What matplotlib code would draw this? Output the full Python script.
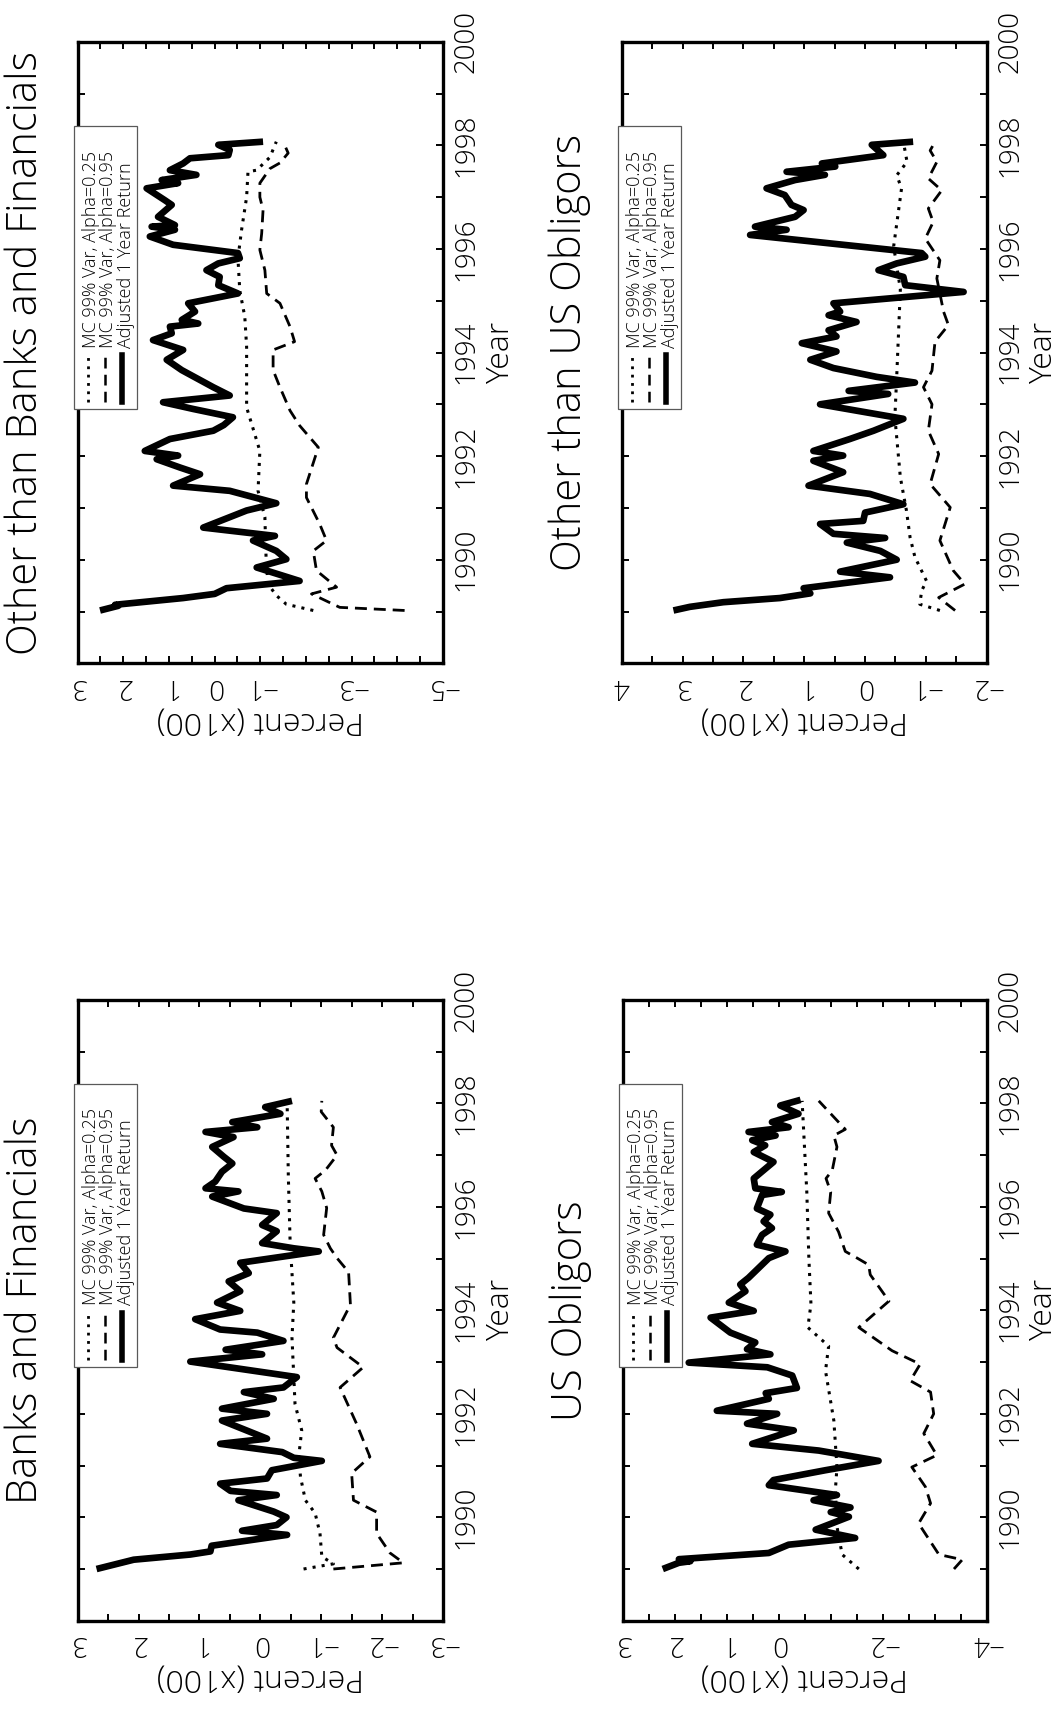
import matplotlib.pyplot as plt
from matplotlib.patches import Rectangle
from matplotlib.ticker import MultipleLocator

plt.rcParams['font.family'] = ['Open Sans', 'DejaVu Sans']
plt.rcParams['font.weight'] = 'light'
plt.rcParams['axes.labelweight'] = 'light'

# ---- Banks and Financials ----
bf_ret_yr = [1989.00, 1989.18, 1989.28, 1989.34, 1989.45, 1989.66, 1989.74, 1989.85, 1990.00, 1990.11,
             1990.33, 1990.43, 1990.51, 1990.65, 1990.75, 1990.91, 1991.09, 1991.15, 1991.26, 1991.42,
             1991.52, 1991.87, 1992.00, 1992.10, 1992.29, 1992.42, 1992.51, 1992.71, 1993.01, 1993.15,
             1993.24, 1993.41, 1993.57, 1993.63, 1993.83, 1993.99, 1994.15, 1994.37, 1994.56, 1994.72,
             1994.92, 1995.14, 1995.20, 1995.30, 1995.53, 1995.65, 1995.88, 1995.97, 1996.20, 1996.30,
             1996.36, 1996.49, 1996.68, 1996.84, 1996.97, 1997.16, 1997.35, 1997.45, 1997.54, 1997.64,
             1997.80, 1997.93, 1998.05]
bf_ret = [2.69, 2.08, 1.15, 0.82, 0.80, -0.44, 0.30, -0.27, -0.43, -0.22,
          0.36, -0.27, 0.49, 0.66, -0.11, -0.19, -1.01, -0.55, -0.36, 0.66,
          -0.11, 0.63, -0.11, 0.63, -0.22, 0.27, -0.38, -0.60, 1.15, -0.03,
          0.57, -0.38, 0.05, 0.66, 1.07, 0.33, 0.71, 0.33, 0.52, 0.19,
          0.33, -0.96, -0.55, -0.03, -0.27, -0.03, -0.27, 0.27, 0.79, 0.36,
          0.90, 0.74, 0.63, 0.46, 0.60, 0.79, 0.44, 0.90, 0.05, 0.46,
          -0.33, -0.08, -0.52]
bf_v25_yr = [1989.00, 1989.10, 1989.24, 1989.69, 1990.08, 1990.33, 1990.78, 1991.17, 1991.68, 1992.19,
             1992.71, 1993.47, 1994.15, 1995.30, 1996.60, 1998.05]
bf_v25 = [-0.71, -1.20, -1.01, -0.98, -0.90, -0.74, -0.66, -0.63, -0.68, -0.57,
          -0.55, -0.52, -0.55, -0.49, -0.46, -0.44]
bf_v95_yr = [1989.00, 1989.12, 1989.31, 1989.69, 1990.10, 1990.33, 1990.85, 1991.17, 1991.81, 1992.51,
             1992.90, 1993.28, 1993.47, 1994.11, 1994.74, 1995.01, 1995.20, 1995.46, 1995.98, 1996.30,
             1996.55, 1996.71, 1997.00, 1997.19, 1997.54, 1997.84, 1998.05]
bf_v95 = [-1.20, -2.35, -2.13, -1.91, -1.91, -1.53, -1.50, -1.80, -1.58, -1.31,
          -1.69, -1.26, -1.20, -1.48, -1.45, -1.26, -1.15, -1.04, -1.09, -1.01,
          -0.90, -1.07, -1.26, -1.17, -1.20, -1.00, -1.01]

# ---- US Obligors ----
us_ret_yr = [1989.00, 1989.12, 1989.15, 1989.19, 1989.31, 1989.47, 1989.60, 1989.76, 1990.01, 1990.10,
             1990.19, 1990.33, 1990.43, 1990.62, 1990.72, 1990.91, 1991.09, 1991.29, 1991.42, 1991.68,
             1991.81, 1992.00, 1992.06, 1992.29, 1992.40, 1992.50, 1992.74, 1992.90, 1992.99, 1993.15,
             1993.25, 1993.38, 1993.57, 1993.86, 1993.99, 1994.15, 1994.37, 1994.50, 1994.63, 1995.01,
             1995.14, 1995.27, 1995.46, 1995.59, 1995.72, 1995.85, 1995.97, 1996.23, 1996.29, 1996.36,
             1996.55, 1996.71, 1996.87, 1997.06, 1997.19, 1997.29, 1997.38, 1997.45, 1997.54, 1997.64,
             1997.80, 1997.96, 1998.07]
us_ret = [2.23, 1.92, 1.70, 1.92, 0.19, -0.19, -1.47, -0.71, -1.35, -1.00,
          -1.38, -0.67, -1.12, 0.19, 0.10, -0.90, -1.92, -0.77, 0.51, -0.29,
          0.61, 0.03, 1.19, 0.19, 0.25, -0.35, -0.26, 0.22, 1.73, 0.16,
          0.61, 0.45, 0.93, 1.31, 0.48, 0.96, 0.64, 0.74, 0.58, 0.19,
          -0.13, 0.42, 0.32, 0.13, 0.29, 0.16, 0.42, 0.32, -0.06, 0.45,
          0.48, 0.29, 0.10, 0.48, 0.26, 0.51, 0.06, 0.58, -0.19, 0.13,
          -0.38, -0.03, -0.42]
us_v25_yr = [1989.00, 1989.28, 1989.82, 1990.53, 1990.97, 1991.87, 1992.83, 1993.31, 1993.67, 1994.12,
             1995.00, 1996.29, 1998.05]
us_v25 = [-1.54, -1.22, -1.12, -1.09, -1.12, -1.06, -0.90, -0.96, -0.56, -0.62,
          -0.58, -0.54, -0.45]
us_v95_yr = [1989.00, 1989.18, 1989.28, 1989.88, 1990.27, 1990.59, 1990.97, 1991.20, 1991.62, 1992.00,
             1992.42, 1992.64, 1992.96, 1993.22, 1993.67, 1994.18, 1994.69, 1994.88, 1995.01, 1995.14,
             1995.52, 1995.88, 1996.29, 1996.55, 1996.71, 1997.16, 1997.38, 1997.50, 1997.64, 1998.05]
us_v95 = [-3.37, -3.53, -3.08, -2.69, -2.92, -2.82, -2.56, -3.04, -2.79, -2.98,
          -2.92, -2.53, -2.72, -2.18, -1.54, -2.12, -1.76, -1.73, -1.51, -1.28,
          -1.15, -0.96, -1.00, -0.91, -1.03, -1.12, -1.06, -1.28, -1.15, -0.77]

# ---- Other than Banks and Financials ----
ob_ret_yr = [1989.02, 1989.11, 1989.13, 1989.26, 1989.34, 1989.45, 1989.59, 1989.85, 1990.01, 1990.17,
             1990.37, 1990.46, 1990.62, 1990.95, 1991.09, 1991.33, 1991.43, 1991.65, 1991.78, 1991.94,
             1992.01, 1992.10, 1992.33, 1992.49, 1992.60, 1992.75, 1992.91, 1993.04, 1993.17, 1993.33,
             1993.66, 1993.86, 1994.05, 1994.24, 1994.37, 1994.50, 1994.56, 1994.63, 1994.79, 1994.95,
             1995.14, 1995.30, 1995.46, 1995.59, 1995.72, 1995.82, 1995.92, 1996.08, 1996.24, 1996.37,
             1996.43, 1996.46, 1996.62, 1996.85, 1996.94, 1997.17, 1997.27, 1997.33, 1997.43, 1997.52,
             1997.65, 1997.75, 1997.81, 1997.91, 1998.01, 1998.07]
ob_ret = [2.51, 2.11, 2.18, 0.69, 0.00, -0.26, -1.86, -0.92, -1.57, -1.35,
          -0.84, -1.32, 0.25, -0.70, -1.35, -0.33, 0.91, 0.32, 0.76, 1.27,
          0.80, 1.53, 0.98, 0.03, -0.20, -0.40, 0.47, 1.13, -0.33, 0.03,
          0.72, 1.05, 0.69, 1.35, 0.94, 0.98, 0.36, 0.72, 0.43, 0.58,
          -0.51, -0.08, -0.11, 0.18, -0.08, -0.55, -0.51, 0.91, 1.42, 0.87,
          1.38, 0.87, 1.24, 0.94, 1.09, 1.49, 0.80, 1.16, 0.40, 0.98,
          0.69, 0.54, -0.30, -0.33, -0.08, -1.06]
ob_v25_yr = [1989.02, 1989.14, 1989.31, 1989.53, 1989.92, 1990.82, 1991.33, 1992.10, 1992.94, 1994.11,
             1994.69, 1995.20, 1995.82, 1996.37, 1997.00, 1997.49, 1997.52, 1997.77, 1998.07]
ob_v25 = [-2.16, -1.57, -1.35, -1.17, -1.13, -1.10, -0.95, -0.99, -0.70, -0.70,
          -0.66, -0.55, -0.51, -0.59, -0.70, -0.73, -0.92, -1.21, -1.35]
ob_v95_yr = [1989.02, 1989.08, 1989.34, 1989.47, 1989.79, 1990.17, 1990.37, 1990.69, 1991.20, 1991.46,
             1992.17, 1992.59, 1992.88, 1993.33, 1993.66, 1994.05, 1994.21, 1994.50, 1994.95, 1995.14,
             1995.59, 1995.98, 1996.30, 1996.75, 1997.00, 1997.27, 1997.55, 1997.66, 1997.85, 1998.07]
ob_v95 = [-4.16, -2.74, -2.12, -2.67, -2.23, -2.16, -2.45, -2.30, -2.01, -2.01,
          -2.27, -1.86, -1.65, -1.43, -1.28, -1.28, -1.75, -1.65, -1.43, -1.14,
          -1.10, -0.99, -1.03, -1.06, -0.99, -0.99, -1.21, -1.43, -1.61, -1.50]

# ---- Other than US Obligors ----
ou_ret_yr = [1989.02, 1989.09, 1989.18, 1989.26, 1989.35, 1989.45, 1989.66, 1989.77, 1990.00, 1990.17,
             1990.33, 1990.42, 1990.50, 1990.69, 1990.75, 1990.91, 1991.07, 1991.27, 1991.43, 1991.69,
             1991.91, 1992.01, 1992.10, 1992.33, 1992.49, 1992.72, 1993.00, 1993.20, 1993.26, 1993.42,
             1993.53, 1993.70, 1993.86, 1994.02, 1994.18, 1994.31, 1994.43, 1994.59, 1994.72, 1994.79,
             1994.95, 1995.17, 1995.30, 1995.46, 1995.59, 1995.72, 1995.85, 1995.92, 1996.27, 1996.37,
             1996.43, 1996.62, 1996.75, 1996.85, 1997.04, 1997.17, 1997.33, 1997.43, 1997.49, 1997.59,
             1997.65, 1997.81, 1998.01, 1998.07]
ou_ret = [3.15, 2.88, 2.33, 1.40, 0.90, 1.01, -0.41, 0.41, -0.52, -0.25,
          0.30, -0.33, 0.52, 0.74, 0.03, 0.00, -0.63, -0.08, 0.93, 0.36,
          0.85, 0.36, 0.85, 0.25, -0.14, -0.63, 0.74, -0.38, 0.27, -0.82,
          -0.19, 0.52, 0.90, 0.47, 1.04, 0.47, 0.60, 0.14, 0.60, 0.41,
          0.52, -1.62, -0.66, -0.63, -0.22, -0.52, -0.99, -0.93, 1.89, 1.29,
          1.81, 1.15, 1.01, 1.21, 1.32, 1.62, 1.15, 0.66, 1.29, 0.49,
          0.71, -0.30, -0.11, -0.79]
ou_v25_yr = [1989.02, 1989.14, 1989.40, 1989.59, 1990.05, 1990.43, 1990.95, 1991.59, 1992.75, 1993.53,
             1995.22, 1996.05, 1997.17, 1997.42, 1997.68, 1998.07]
ou_v25 = [-1.23, -0.90, -0.93, -1.01, -0.82, -0.74, -0.68, -0.58, -0.49, -0.52,
          -0.58, -0.47, -0.60, -0.52, -0.69, -0.63]
ou_v95_yr = [1989.02, 1989.27, 1989.53, 1989.79, 1990.37, 1991.01, 1991.46, 1992.04, 1992.49, 1993.00,
             1993.33, 1993.65, 1994.21, 1994.53, 1994.79, 1995.43, 1995.78, 1996.20, 1996.52, 1996.78,
             1997.13, 1997.36, 1997.68, 1997.90, 1998.07]
ou_v95 = [-1.48, -1.21, -1.64, -1.45, -1.23, -1.40, -1.07, -1.21, -1.04, -1.10,
          -0.96, -1.10, -1.15, -1.37, -1.29, -1.18, -1.23, -0.99, -1.12, -1.04,
          -1.26, -1.04, -1.18, -1.07, -1.15]

titles = ['Banks and Financials', 'US Obligors',
          'Other than Banks and Financials', 'Other than US Obligors']
pct_ticks = [[3, 2, 1, 0, -1, -2, -3],
             [3, 2, 1, 0, -2, -4],
             [3, 2, 1, 0, -1, -3, -5],
             [4, 3, 2, 1, 0, -1, -2]]
legend_labels = ['MC 99% Var, Alpha=0.25', 'MC 99% Var, Alpha=0.95', 'Adjusted 1 Year Return']

series = [
    (bf_ret_yr, bf_ret, bf_v25_yr, bf_v25, bf_v95_yr, bf_v95),
    (us_ret_yr, us_ret, us_v25_yr, us_v25, us_v95_yr, us_v95),
    (ob_ret_yr, ob_ret, ob_v25_yr, ob_v25, ob_v95_yr, ob_v95),
    (ou_ret_yr, ou_ret, ou_v25_yr, ou_v25, ou_v95_yr, ou_v95),
]

# page is a landscape figure turned 90 degrees: percent runs right-to-left, years run upward
rects = [[0.0732, 0.0522, 0.3443, 0.3630],
         [0.5869, 0.0522, 0.3431, 0.3630],
         [0.0732, 0.6121, 0.3443, 0.3635],
         [0.5860, 0.6121, 0.3440, 0.3635]]
xlims = [(3, -3), (3, -4), (3, -5), (4, -2)]

dotted = (0, (1, 2))
dashed = (0, (4.3, 2.5))

fig = plt.figure(figsize=(10.61, 17.10), dpi=100)

for i in range(4):
    ax = fig.add_axes(rects[i])
    ry, r, y25, v25, y95, v95 = series[i]
    ax.plot(v25, y25, color='black', lw=2.2, linestyle=dotted)
    ax.plot(v95, y95, color='black', lw=2.0, linestyle=dashed)
    ax.plot(r, ry, color='black', lw=4.8, solid_joinstyle='round', solid_capstyle='butt')

    ax.set_xlim(*xlims[i])
    ax.set_ylim(1988, 2000)
    ax.set_xticks(pct_ticks[i])
    ax.set_xticklabels([str(t).replace('-', '\u2212') for t in pct_ticks[i]])
    ax.xaxis.set_minor_locator(MultipleLocator(0.5))
    ax.set_yticks(range(1990, 2001, 2))
    ax.yaxis.set_minor_locator(MultipleLocator(1))

    ax.tick_params(which='both', direction='in', top=True, bottom=True, left=True, right=True,
                   length=5, width=1.4)
    ax.tick_params(axis='x', labelrotation=180, labelsize=20, pad=6)
    ax.tick_params(axis='y', labelleft=False, labelright=True, labelrotation=90, labelsize=20, pad=7)
    for lab in ax.get_yticklabels():
        lab.set_va('center')

    for sp in ax.spines.values():
        sp.set_linewidth(2.4)

    ax.set_xlabel('Percent (x100)', rotation=180, fontsize=23, va='center', ha='center',
                  fontweight='light')
    ax.xaxis.set_label_coords(0.5, -0.092)
    ax.yaxis.set_label_position('right')
    ax.set_ylabel('Year', fontsize=23, va='center', ha='center', fontweight='light')
    ax.yaxis.set_label_coords(1.158, 0.5)

    ax.text(-0.142, 0.5, titles[i], transform=ax.transAxes, rotation=90,
            ha='center', va='center', fontsize=30)

    # legend, drawn by hand because it is turned too
    ax.add_patch(Rectangle((-0.011, 0.409), 0.173, 0.456, transform=ax.transAxes,
                           facecolor='white', edgecolor='0.35', lw=0.9, zorder=5, clip_on=False))
    styles = [(dotted, 2.0), (dashed, 1.8), ('-', 4.0)]
    for k in range(3):
        xk = 0.028 + 0.047 * k
        ax.plot([xk, xk], [0.42, 0.496], transform=ax.transAxes, color='black',
                lw=styles[k][1], linestyle=styles[k][0], zorder=6, clip_on=False)
        ax.text(xk + 0.009, 0.508, legend_labels[k], transform=ax.transAxes, rotation=90,
                ha='center', va='bottom', fontsize=13, zorder=6)

fig.savefig('out.png', dpi=100)
